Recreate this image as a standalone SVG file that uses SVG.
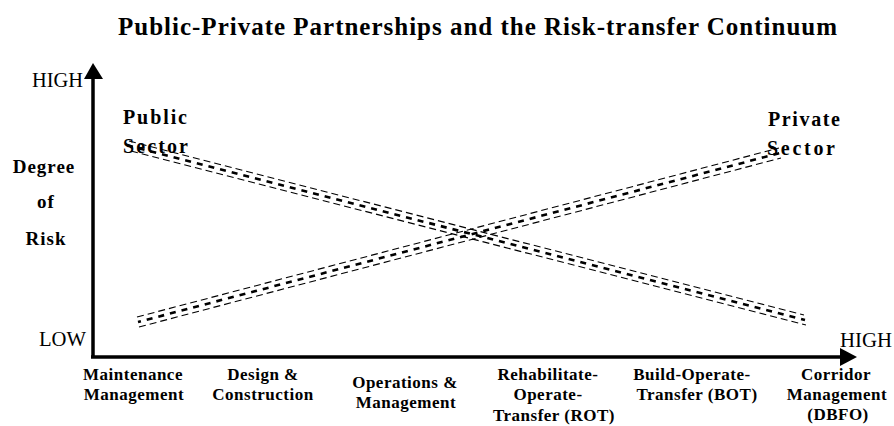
<svg xmlns="http://www.w3.org/2000/svg" width="894" height="426" viewBox="0 0 894 426">
<style>
  .t { font-family: "Liberation Serif", "DejaVu Serif", "Times New Roman", serif; fill: #000; }
  .b { font-weight: bold; }
  .lbl { font-family: "Liberation Serif", "DejaVu Serif", "Times New Roman", serif; font-weight: bold; font-size: 17px; letter-spacing: 0.5px; text-anchor: middle; fill: #000; }
  .big { font-size: 19px; letter-spacing: 1px; }
  .ax { stroke: #000; stroke-width: 3.5; fill: none; }
  .d1 { stroke: #000; stroke-width: 1.1; fill: none; stroke-dasharray: 7 4; }
  .d2 { stroke: #000; stroke-width: 2.6; fill: none; stroke-dasharray: 6 6; stroke-dashoffset: 3; }
</style>
<rect width="894" height="426" fill="#fff"/>
<text class="t b" x="118" y="35" font-size="25" textLength="719" lengthAdjust="spacing">Public-Private Partnerships and the Risk-transfer Continuum</text>

<g id="axes">
  <line class="ax" x1="93" y1="357" x2="93" y2="76"/>
  <polygon points="93,63 84,79 103,79" fill="#000"/>
  <line class="ax" x1="91" y1="357" x2="842" y2="357"/>
  <polygon points="857,357 840,348 840,366" fill="#000"/>
</g>

<g id="axis-labels">
  <text class="t" x="32" y="87" font-size="20" textLength="51" lengthAdjust="spacingAndGlyphs">HIGH</text>
  <text class="t" x="39" y="346" font-size="20" textLength="47" lengthAdjust="spacingAndGlyphs">LOW</text>
  <text class="t" x="840" y="347" font-size="20" textLength="52" lengthAdjust="spacingAndGlyphs">HIGH</text>
  <text class="lbl big" x="44" y="173">Degree</text>
  <text class="lbl big" x="46" y="208">of</text>
  <text class="lbl big" x="46" y="245">Risk</text>
</g>

<g id="connectors">
  <g id="public-line">
    <line class="d1" x1="129" y1="141" x2="804" y2="315"/>
    <line class="d2" x1="130" y1="146" x2="805" y2="320"/>
    <line class="d1" x1="131" y1="151" x2="806" y2="325"/>
  </g>
  <g id="private-line">
    <line class="d1" x1="139" y1="327" x2="781" y2="158"/>
    <line class="d2" x1="138" y1="322" x2="780" y2="153"/>
    <line class="d1" x1="137" y1="317" x2="779" y2="148"/>
  </g>
</g>

<g id="public-sector">
  <text class="t b" x="123" y="124" font-size="20" textLength="64" lengthAdjust="spacing">Public</text>
  <text class="t b" x="123" y="153" font-size="20" textLength="65" lengthAdjust="spacing">Sector</text>
</g>
<g id="private-sector">
  <text class="t b" x="768" y="126" font-size="20" textLength="72" lengthAdjust="spacing">Private</text>
  <text class="t b" x="767" y="155" font-size="20" textLength="68" lengthAdjust="spacing">Sector</text>
</g>

<g id="maintenance">
  <text class="lbl" x="133" y="380">Maintenance</text>
  <text class="lbl" x="134" y="400">Management</text>
</g>
<g id="design">
  <text class="lbl" x="263" y="380">Design &amp;</text>
  <text class="lbl" x="263" y="400">Construction</text>
</g>
<g id="operations">
  <text class="lbl" x="405" y="388">Operations &amp;</text>
  <text class="lbl" x="406" y="408">Management</text>
</g>
<g id="rot">
  <text class="lbl" x="548" y="380">Rehabilitate-</text>
  <text class="lbl" x="548" y="400">Operate-</text>
  <text class="lbl" x="554" y="421">Transfer (ROT)</text>
</g>
<g id="bot">
  <text class="lbl" x="692" y="380">Build-Operate-</text>
  <text class="lbl" x="697" y="400">Transfer (BOT)</text>
</g>
<g id="dbfo">
  <text class="lbl" x="836" y="380">Corridor</text>
  <text class="lbl" x="837" y="400">Management</text>
  <text class="lbl" x="838" y="420">(DBFO)</text>
</g>
</svg>
